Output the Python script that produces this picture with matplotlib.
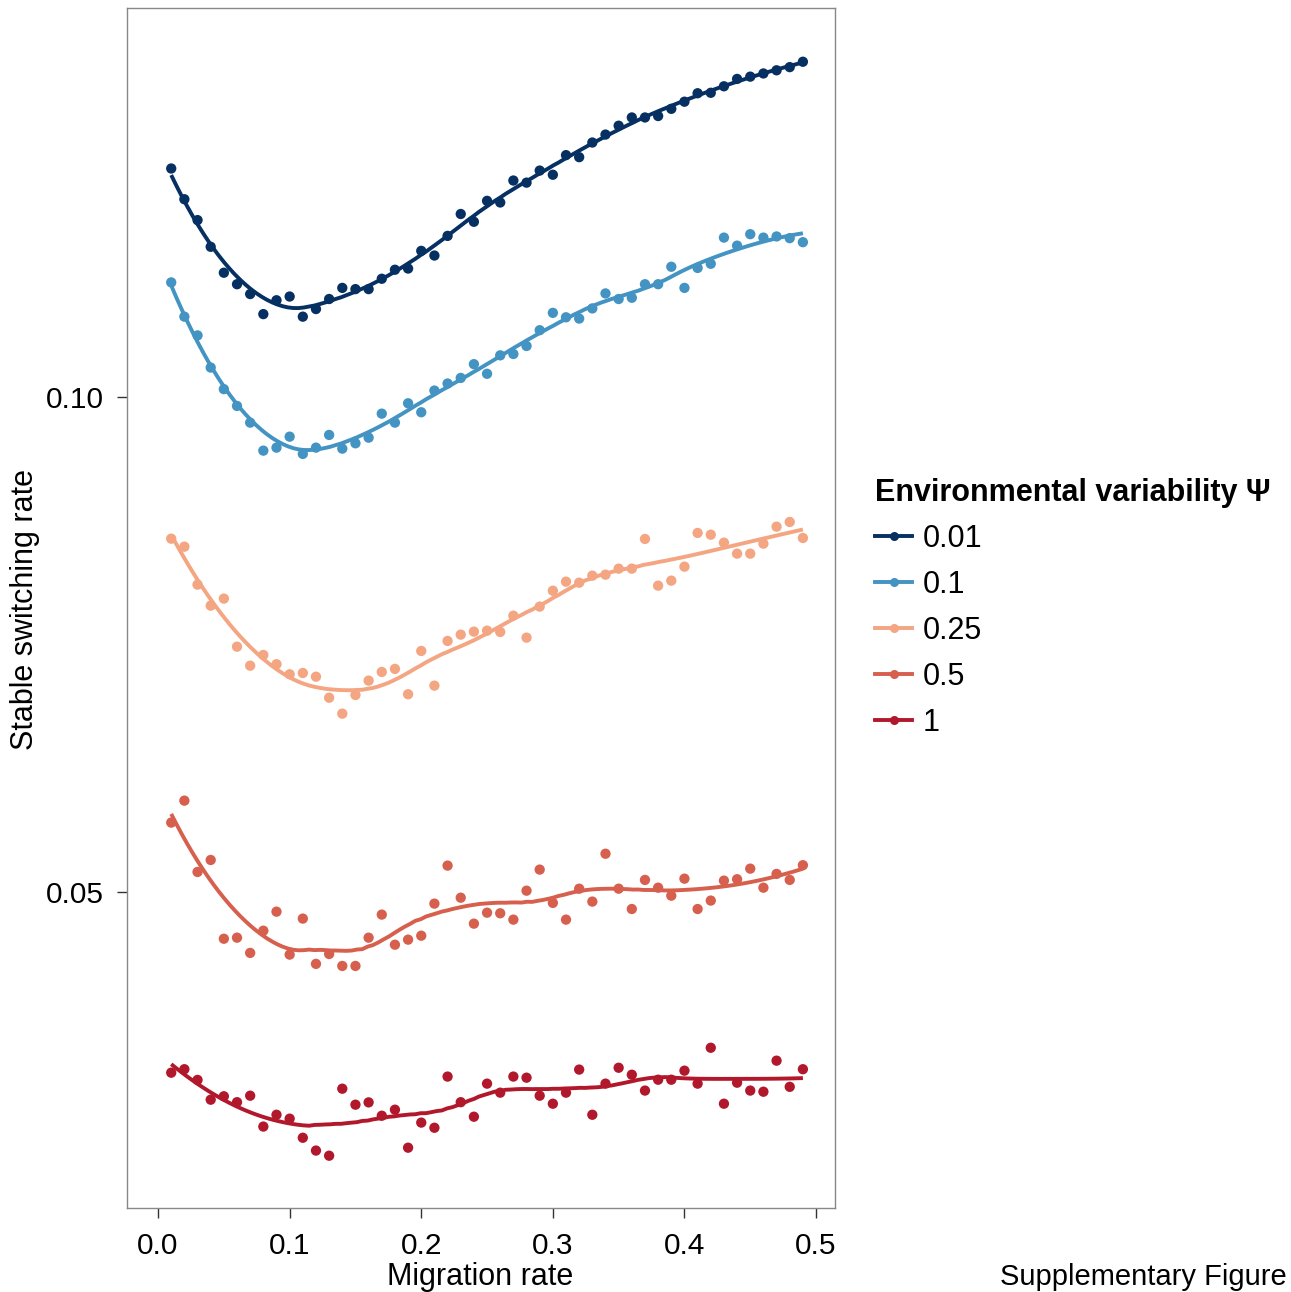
import numpy as np
import matplotlib
matplotlib.use("Agg")
import matplotlib.pyplot as plt
from matplotlib.lines import Line2D

plt.rcParams['font.family'] = ['Liberation Sans', 'DejaVu Sans']

migration = [round(0.01 * k, 2) for k in range(1, 50)]

psi_001 = [0.1377, 0.1319, 0.1281, 0.1234, 0.1190, 0.1171, 0.1155, 0.1123, 0.1145, 0.1151,
           0.1119, 0.1131, 0.1147, 0.1165, 0.1163, 0.1163, 0.1180, 0.1195, 0.1197, 0.1227,
           0.1219, 0.1253, 0.1292, 0.1278, 0.1316, 0.1313, 0.1354, 0.1350, 0.1373, 0.1365,
           0.1403, 0.1399, 0.1428, 0.1444, 0.1462, 0.1479, 0.1479, 0.1482, 0.1497, 0.1512,
           0.1530, 0.1531, 0.1545, 0.1561, 0.1566, 0.1573, 0.1580, 0.1587, 0.1599]
psi_01 = [0.1174, 0.1119, 0.1090, 0.1042, 0.1011, 0.09875, 0.09647, 0.09276, 0.09315, 0.09459,
          0.09233, 0.09315, 0.09482, 0.09302, 0.09372, 0.09446, 0.09769, 0.09647, 0.09912, 0.09788,
          0.1009, 0.1019, 0.1027, 0.1047, 0.1033, 0.1060, 0.1062, 0.1074, 0.1098, 0.1125,
          0.1118, 0.1116, 0.1132, 0.1156, 0.1147, 0.1149, 0.1171, 0.1171, 0.1200, 0.1165,
          0.1198, 0.1205, 0.1250, 0.1236, 0.1256, 0.1250, 0.1252, 0.1249, 0.1242]
psi_025 = [0.08200, 0.08109, 0.07689, 0.07466, 0.07540, 0.07049, 0.06864, 0.06968, 0.06878, 0.06782,
           0.06794, 0.06759, 0.06563, 0.06418, 0.06588, 0.06722, 0.06804, 0.06833, 0.06595, 0.07007,
           0.06675, 0.07106, 0.07169, 0.07199, 0.07209, 0.07196, 0.07362, 0.07139, 0.07456, 0.07624,
           0.07721, 0.07710, 0.07786, 0.07797, 0.07863, 0.07863, 0.08197, 0.07678, 0.07732, 0.07885,
           0.08266, 0.08246, 0.08154, 0.08030, 0.08030, 0.08143, 0.08339, 0.08394, 0.08208]
psi_05 = [0.05510, 0.05682, 0.05142, 0.05229, 0.04683, 0.04690, 0.04591, 0.04736, 0.04864, 0.04580,
          0.04817, 0.04521, 0.04584, 0.04508, 0.04508, 0.04690, 0.04844, 0.04644, 0.04677, 0.04703,
          0.04919, 0.05188, 0.04960, 0.04783, 0.04857, 0.04853, 0.04810, 0.05009, 0.05159, 0.04924,
          0.04810, 0.05023, 0.04933, 0.05275, 0.05023, 0.04882, 0.05085, 0.05030, 0.04974, 0.05094,
          0.04882, 0.04940, 0.05080, 0.05090, 0.05166, 0.05030, 0.05128, 0.05085, 0.05191]
psi_1 = [0.03882, 0.03901, 0.03843, 0.03738, 0.03756, 0.03725, 0.03759, 0.03600, 0.03660, 0.03640,
         0.03544, 0.03481, 0.03456, 0.03796, 0.03712, 0.03724, 0.03655, 0.03686, 0.03495, 0.03620,
         0.03594, 0.03861, 0.03725, 0.03650, 0.03823, 0.03775, 0.03861, 0.03855, 0.03759, 0.03717,
         0.03775, 0.03899, 0.03660, 0.03823, 0.03909, 0.03871, 0.03786, 0.03844, 0.03844, 0.03893,
         0.03823, 0.04020, 0.03717, 0.03828, 0.03786, 0.03780, 0.03948, 0.03806, 0.03901]

series_labels = ["0.01", "0.1", "0.25", "0.5", "1"]
series_values = [psi_001, psi_01, psi_025, psi_05, psi_1]
colors = ["#053061", "#4393c3", "#f4a582", "#d6604d", "#b2182b"]

x_ticks = [0.0, 0.1, 0.2, 0.3, 0.4, 0.5]
x_ticklabels = ["0.0", "0.1", "0.2", "0.3", "0.4", "0.5"]
y_ticks = [0.05, 0.10]
y_ticklabels = ["0.05", "0.10"]


def loess(x, y, span, xs):
    x = np.asarray(x, float)
    y = np.asarray(y, float)
    n = len(x)
    q = int(np.floor(n * span))
    out = []
    for x0 in xs:
        d = np.abs(x - x0)
        h = np.sort(d)[q - 1] * 1.0000001
        w = np.clip(1 - (d / h) ** 3, 0, None) ** 3
        c = np.polyfit(x - x0, y, 2, w=np.sqrt(w))
        out.append(c[-1])
    return np.array(out)


W, H = 1291, 1292
fig = plt.figure(figsize=(W / 100, H / 100), dpi=100)
ax = fig.add_axes([127 / W, 1 - 1208 / H, 708 / W, 1200 / H])

xs = np.linspace(min(migration), max(migration), 120)
handles = []
for lab, vals, col in zip(series_labels, series_values, colors):
    ax.scatter(migration, vals, s=55, color=col, edgecolors='none', zorder=3)
    fit = 10 ** loess(migration, np.log10(vals), 0.45, xs)
    ax.plot(xs, fit, color=col, lw=2.8, zorder=4, solid_capstyle='butt')
    handles.append(Line2D([], [], color=col, lw=2.8, marker='o', markersize=6.5,
                          markeredgewidth=0, label=lab))

ax.set_yscale('log')
ax.set_xlim(-0.0236, 0.5144)
ax.set_ylim(0.03212, 0.1724)
ax.set_xticks(x_ticks)
ax.set_xticklabels(x_ticklabels)
ax.set_yticks(y_ticks)
ax.set_yticklabels(y_ticklabels)
ax.yaxis.set_minor_locator(matplotlib.ticker.NullLocator())
ax.tick_params(axis='both', direction='out', length=7, width=1.0, color='#333333',
               labelsize=21.5, labelcolor='black')
ax.tick_params(axis='x', pad=10)
ax.tick_params(axis='y', pad=10)
for sp in ax.spines.values():
    sp.set_color('#888888')
    sp.set_linewidth(1.0)

fig.text(480 / W, 1 - 1277 / H, "Migration rate", ha='center', va='center', fontsize=22)
fig.text(25 / W, 1 - 610 / H, "Stable switching rate", ha='center', va='center',
         rotation=90, fontsize=22)

leg = fig.legend(handles=handles, loc='upper left', bbox_to_anchor=(860 / W, 1 - 463 / H),
                 frameon=False, fontsize=22, title="Environmental variability \u03a8",
                 title_fontproperties={'weight': 'bold', 'size': 22},
                 borderpad=0, handlelength=1.2, handletextpad=0.35, labelspacing=0.52)
leg._legend_box.align = "left"

fig.text(1287 / W, 1 - 1277 / H, "Supplementary Figure", ha='right', va='center', fontsize=21)

fig.savefig("out.png", dpi=100)
